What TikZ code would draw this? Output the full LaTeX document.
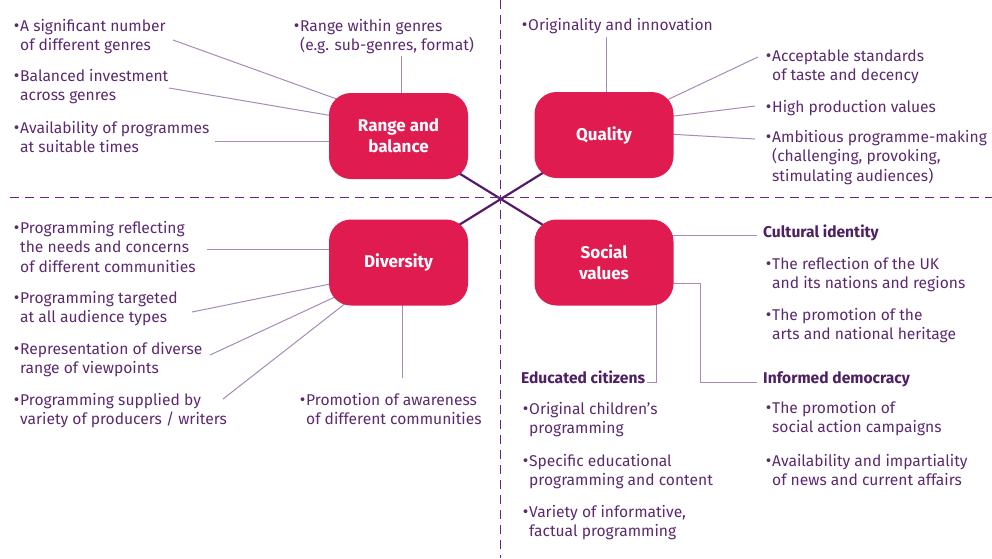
\documentclass[tikz,border=0pt]{standalone}
\usepackage{fontspec}
\setmainfont{Fira Sans}
\usetikzlibrary{backgrounds}
\definecolor{txtp}{HTML}{5B2A6E}
\definecolor{headp}{HTML}{4E1F63}
\definecolor{linep}{HTML}{A68BB5}
\definecolor{dashp}{HTML}{6B2281}
\definecolor{xp}{HTML}{561A6B}
\definecolor{boxr}{HTML}{E01B50}
\tikzset{
  item/.style={anchor=base west, inner sep=0pt, align=left, text=txtp,
    font=\fontsize{15.6}{19.5}\selectfont},
  head/.style={anchor=base west, inner sep=0pt, text=headp,
    font=\fontsize{15.6}{19.5}\selectfont\bfseries},
  box/.style={fill=boxr, rounded corners=22pt, minimum width=139pt, minimum height=86pt,
    text=white, align=center, inner sep=0pt, font=\fontsize{17}{21}\selectfont\bfseries},
  conn/.style={draw=linep, line width=1pt},
  divider/.style={draw=dashp, line width=1.6pt, dash pattern=on 9pt off 6pt},
  xline/.style={draw=xp, line width=2.2pt},
}
\newcommand{\bul}{\makebox[0pt][r]{\raisebox{-0.3pt}{\fontsize{17}{17}\selectfont•}\hspace{0.8pt}}}
\begin{document}
\begin{tikzpicture}[x=1pt,y=-1pt]
\useasboundingbox (0,0) rectangle (992,558);
% dividers
\coordinate (vtop) at (500.5,0);
\coordinate (vbot) at (500.5,558);
\coordinate (hl) at (10,197.5);
\coordinate (hr) at (992,197.5);
\draw[divider] (vtop) -- (vbot);
\draw[divider] (hl) -- (hr);
% boxes
\node[box] (rb) at (398.5,136) {Range and\\balance};
\node[box] (qu) at (604,135) {Quality};
\node[box] (dv) at (398.5,262.5) {Diversity};
\node[box] (sv) at (604,262.5) {Social\\values};
% X lines behind boxes
\begin{scope}[on background layer]
\draw[xline] (rb.center) -- (sv.center);
\draw[xline] (qu.center) -- (dv.center);
\end{scope}
% text items (anchor = baseline of the last line)
% top-left
\node[item] (t1) at (20,50.5) {\bul A significant number\\of different genres};
\node[item] (t2) at (20,100.5) {\bul Balanced investment\\across genres};
\node[item] (t3) at (20,152.5) {\bul Availability of programmes\\at suitable times};
\node[item] (t4) at (300,50.5) {\bul Range within genres\\(e.g. sub-genres, format)};
% top-right
\node[item] (t5) at (528,30) {\bul Originality and innovation};
\node[item] (t6) at (772,80.5) {\bul Acceptable standards\\of taste and decency};
\node[item] (t7) at (772,112) {\bul High production values};
\node[item] (t8) at (772,181) {\bul Ambitious programme-making\\(challenging, provoking,\\stimulating audiences)};
% bottom-left
\node[item] (t9) at (20,272) {\bul Programming reflecting\\the needs and concerns\\of different communities};
\node[item] (t10) at (20,322.5) {\bul Programming targeted\\at all audience types};
\node[item] (t11) at (20,373.5) {\bul Representation of diverse\\range of viewpoints};
\node[item] (t12) at (20,424.5) {\bul Programming supplied by\\variety of producers / writers};
\node[item] (t13) at (306,424.5) {\bul Promotion of awareness\\of different communities};
% bottom-right
\node[head] (h1) at (763,237) {Cultural identity};
\node[item] (t14) at (772,288.5) {\bul The reflection of the UK\\and its nations and regions};
\node[item] (t15) at (772,339.5) {\bul The promotion of the\\arts and national heritage};
\node[head] (h2) at (763,383) {Informed democracy};
\node[item] (t16) at (772,432.5) {\bul The promotion of\\social action campaigns};
\node[item] (t17) at (772,485.5) {\bul Availability and impartiality\\of news and current affairs};
\node[head] (h3) at (521,383) {Educated citizens};
\node[item] (t18) at (529,433.5) {\bul Original children’s\\programming};
\node[item] (t19) at (529,485.5) {\bul Specific educational\\programming and content};
\node[item] (t20) at (529,536.5) {\bul Variety of informative,\\factual programming};
% connector end points
\coordinate (c1) at (173,40);  \coordinate (b1) at (345,102);
\coordinate (c2) at (169,88);  \coordinate (b2) at (345,118);
\coordinate (c3) at (215,141); \coordinate (b3) at (345,141);
\coordinate (c4) at (401,56);  \coordinate (b4) at (401,110);
\coordinate (c5) at (606,37);  \coordinate (b5) at (606,110);
\coordinate (c6) at (758,57);  \coordinate (b6) at (650,108);
\coordinate (c7) at (755,106); \coordinate (b7) at (650,119);
\coordinate (c8) at (755,139); \coordinate (b8) at (650,133);
\coordinate (c9) at (207,249); \coordinate (b9) at (345,249);
\coordinate (c10) at (192,312); \coordinate (b10) at (345,281);
\coordinate (c11) at (210,355); \coordinate (b11) at (350,290);
\coordinate (c12) at (223,399); \coordinate (b12) at (360,292);
\coordinate (c13) at (402,378); \coordinate (b13) at (402,290);
\coordinate (c14) at (757,235); \coordinate (b14) at (650,235);
\coordinate (c15) at (757,382); \coordinate (k15) at (700,382); \coordinate (j15) at (700,283); \coordinate (b15) at (650,283);
\coordinate (c16) at (647,382); \coordinate (k16) at (656,382); \coordinate (b16) at (656,290);
\begin{scope}[on background layer]
\foreach \i in {1,...,14} { \draw[conn] (c\i) -- (b\i); }
\draw[conn] (c15) -- (k15) -- (j15) -- (b15);
\draw[conn] (c16) -- (k16) -- (b16);
\end{scope}
\end{tikzpicture}
\end{document}
